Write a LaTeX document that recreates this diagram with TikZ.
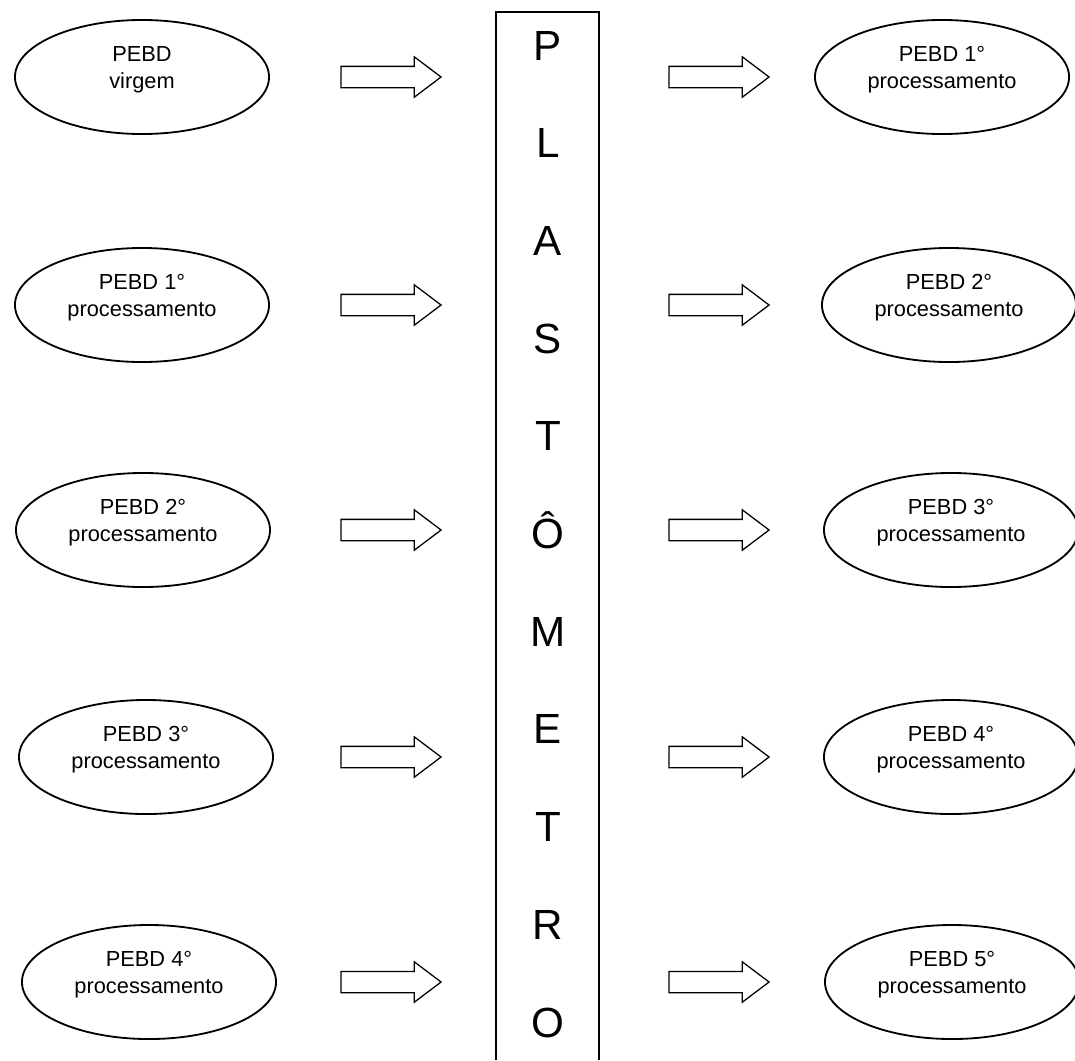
\documentclass[tikz,border=0pt]{standalone}
\usepackage{fontspec}
\setmainfont{Liberation Sans}
\usepackage{tikz}
\usetikzlibrary{shapes.geometric,shapes.arrows}
\tikzset{
  % Elipse com a amostra de PEBD
  amostra/.style={
    ellipse, draw, line width=1.3pt,
    minimum width=6.35cm, minimum height=2.85cm, inner sep=0pt,
    align=center, text depth=14pt,
    font=\fontsize{15.5}{19}\selectfont
  },
  % Seta larga (so contorno)
  seta/.style={
    single arrow, draw, line width=0.9pt,
    minimum height=2.5cm, inner xsep=0pt, inner ysep=0.25cm,
    single arrow head extend=0.2375cm, single arrow tip angle=74
  },
  % Letras da coluna central
  letra/.style={anchor=base, font=\fontsize{30}{36}\selectfont}
}
\begin{document}
\begin{tikzpicture}[x=0.025cm, y=-0.025cm]
  \useasboundingbox (0,0) rectangle (1075,1060);

  % Coluna central, aberta embaixo
  \coordinate (plA) at (496,1060);
  \coordinate (plB) at (496,12);
  \coordinate (plC) at (599,12);
  \coordinate (plD) at (599,1060);
  \draw[line width=0.9pt] (plA) -- (plB) -- (plC) -- (plD);
  \foreach \l [count=\k from 0] in {P,L,A,S,T,Ô,M,E,T,R,O}
    \node[letra] (let\k) at (548,{60+97.7*\k}) {\l};

  % Entradas, setas e saidas
  \foreach \y/\xl/\xr/\txt/\n in {
      77/142/942/{PEBD\\virgem}/1,
      305/142/949/{PEBD 1°\\processamento}/2,
      530/143/951/{PEBD 2°\\processamento}/3,
      757/146/951/{PEBD 3°\\processamento}/4,
      982/149/952/{PEBD 4°\\processamento}/5}
  {
    \node[amostra] (ent\n) at (\xl,\y) {\txt};
    \node[seta] (setaE\n) at (384,\y) {};
    \node[seta] (setaS\n) at (712,\y) {};
    \node[amostra] (sai\n) at (\xr,\y) {PEBD \n°\\processamento};
  }
\end{tikzpicture}
\end{document}
